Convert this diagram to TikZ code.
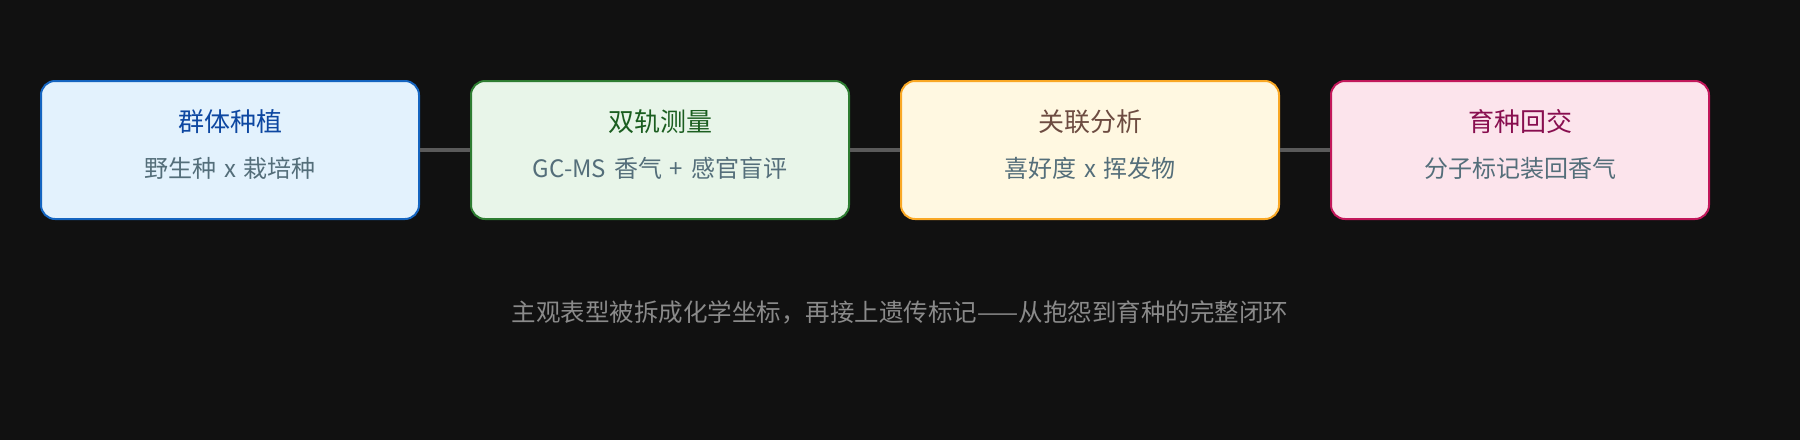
\documentclass[tikz,border=0pt]{standalone}
\usepackage{fontspec}
\setmainfont{Noto Sans CJK SC}
\newfontfamily\cjk{Noto Sans CJK SC}
\newcommand\subfnt{\cjk\fontsize{24}{28}\selectfont}
\newcommand\wsp{\hspace{0.33em}}
\definecolor{bg}{HTML}{111111}
\definecolor{f1}{HTML}{E3F2FD}\definecolor{s1}{HTML}{1565C0}\definecolor{t1}{HTML}{0D47A1}
\definecolor{f2}{HTML}{E8F5E9}\definecolor{s2}{HTML}{2E7D32}\definecolor{t2}{HTML}{1B5E20}
\definecolor{f3}{HTML}{FFF8E1}\definecolor{s3}{HTML}{F9A825}\definecolor{t3}{HTML}{6D4C41}
\definecolor{f4}{HTML}{FCE4EC}\definecolor{s4}{HTML}{C2185B}\definecolor{t4}{HTML}{880E4F}
\definecolor{subc}{HTML}{546E7A}
\definecolor{notec}{HTML}{8A8A8A}
\definecolor{linkc}{HTML}{5A5A5A}
\tikzset{
  stagebox/.style={draw, line width=2pt, rounded corners=14pt, minimum width=378pt, minimum height=138pt, inner sep=0pt},
  ttl/.style={font=\cjk\fontsize{26}{30}\selectfont, anchor=center, inner sep=0pt},
  subt/.style={font=\subfnt, text=subc, anchor=center, inner sep=0pt},
  link/.style={draw=linkc, line width=3.5pt},
  note/.style={font=\cjk\fontsize{24.5}{28}\selectfont, text=notec, inner sep=0pt}
}
\begin{document}
\begin{tikzpicture}[x=1pt,y=-1pt]
\fill[bg] (0,0) rectangle (1800,440);
\useasboundingbox (0,0) rectangle (1800,440);
\node[stagebox, draw=s1, fill=f1] (b1) at (230,150) {};
\node[stagebox, draw=s2, fill=f2] (b2) at (660,150) {};
\node[stagebox, draw=s3, fill=f3] (b3) at (1090,150) {};
\node[stagebox, draw=s4, fill=f4] (b4) at (1520,150) {};
\draw[link] (b1.east) -- (b2.west);
\draw[link] (b2.east) -- (b3.west);
\draw[link] (b3.east) -- (b4.west);
\node[ttl, text=t1] (h1) at (230,122) {群体种植};
\node[subt] (d1) at (230,168) {野生种\wsp x\wsp 栽培种};
\node[ttl, text=t2] (h2) at (660,122) {双轨测量};
\node[subt] (d2) at (660,168) {GC-MS\wsp 香气\wsp +\wsp 感官盲评};
\node[ttl, text=t3] (h3) at (1090,122) {关联分析};
\node[subt] (d3) at (1090,168) {喜好度\wsp x\wsp 挥发物};
\node[ttl, text=t4] (h4) at (1520,122) {育种回交};
\node[subt] (d4) at (1520,168) {分子标记装回香气};
\node[note] (n) at (900,312) {主观表型被拆成化学坐标，再接上遗传标记——从抱怨到育种的完整闭环};
\end{tikzpicture}
\end{document}
